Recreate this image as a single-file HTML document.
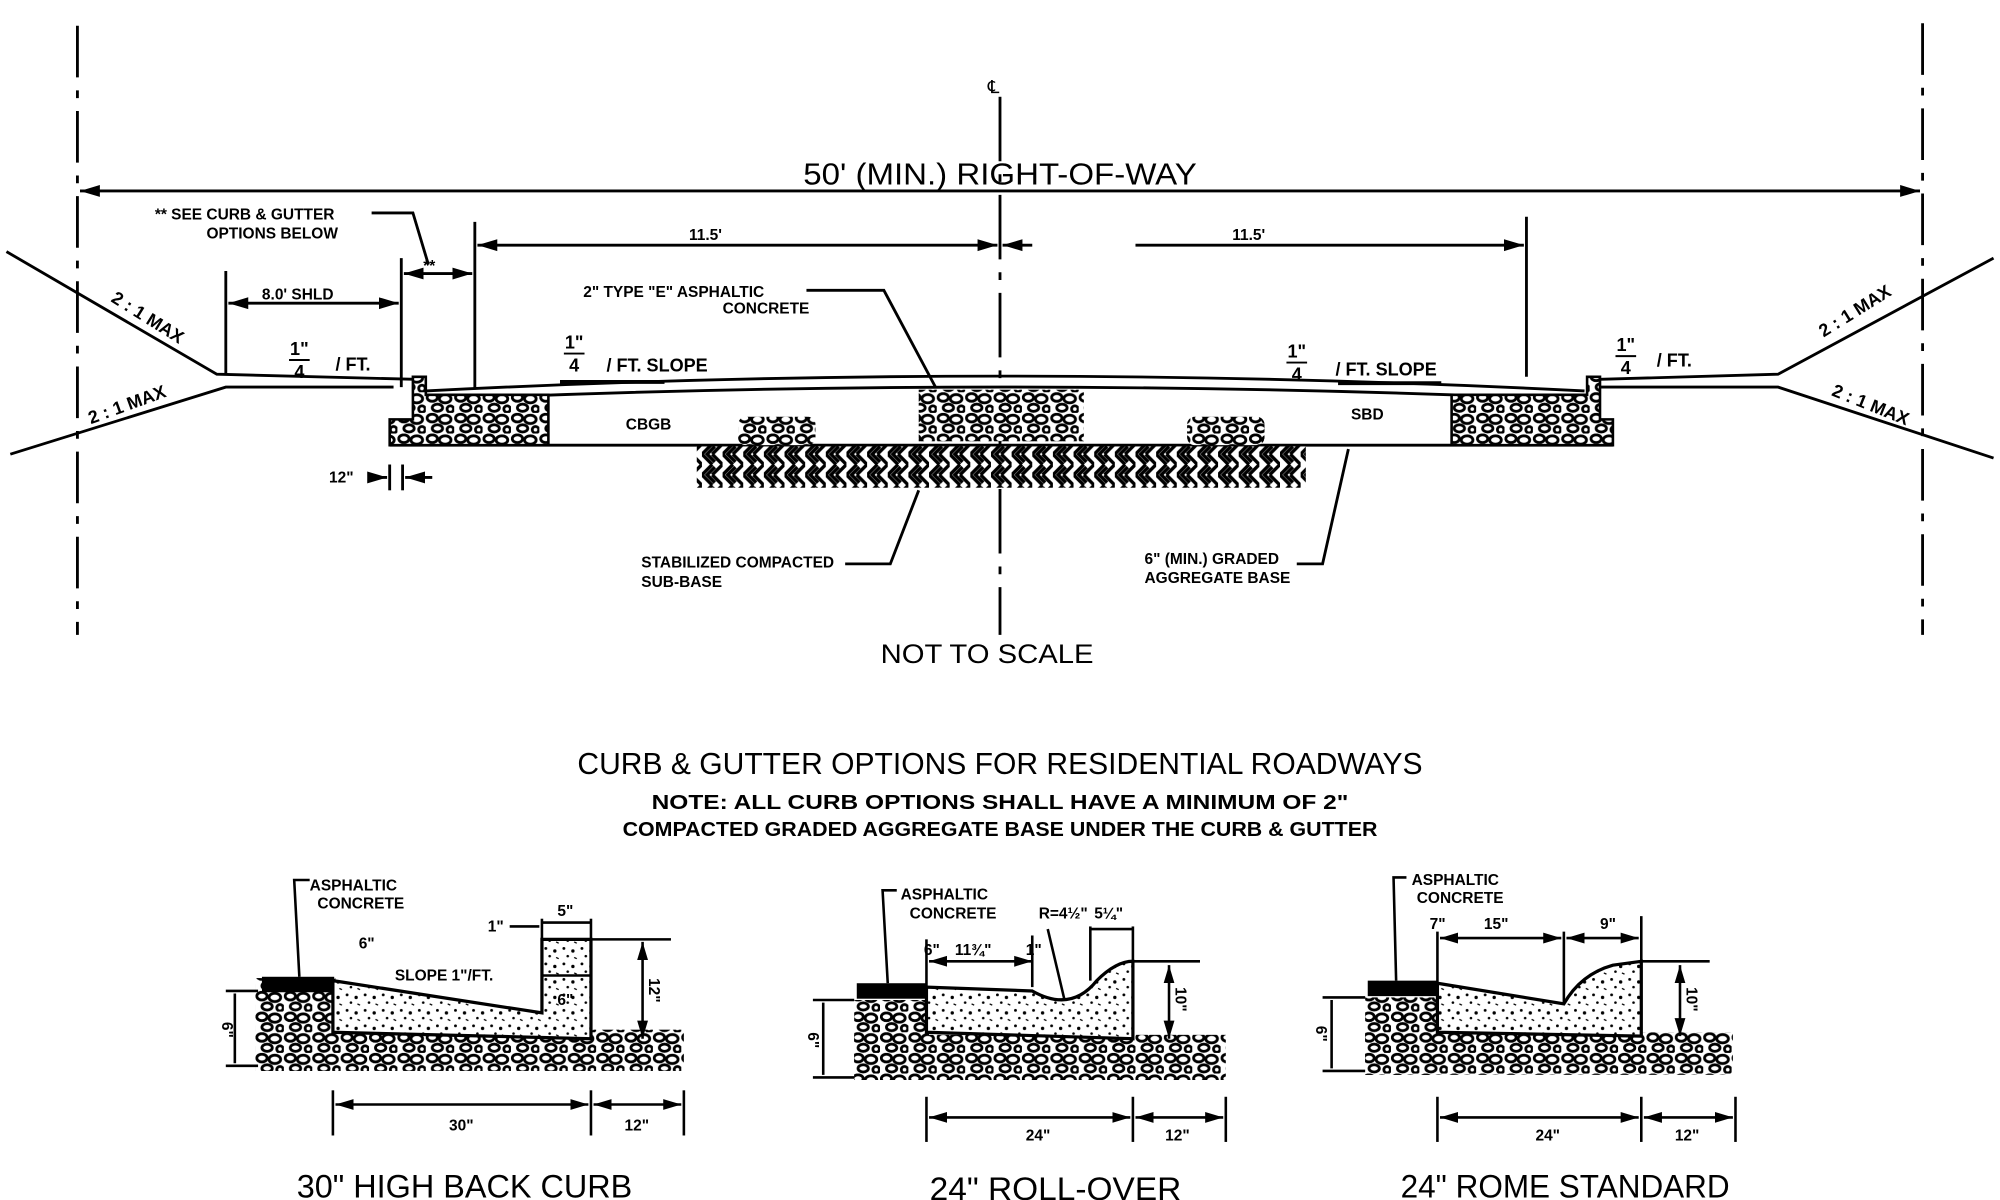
<!DOCTYPE html>
<html><head><meta charset="utf-8"><style>
html,body{margin:0;padding:0;background:#fff;}
svg{display:block;}
text{font-family:"Liberation Sans Narrow","Liberation Sans",sans-serif;fill:#000;}
</style></head><body>
<svg width="2000" height="1200" viewBox="0 0 1550 930" preserveAspectRatio="none" xmlns="http://www.w3.org/2000/svg">
<defs>
<pattern id="grav" width="22" height="16" patternUnits="userSpaceOnUse">
<rect width="22" height="16" fill="#fff"/>
<g fill="#fff" stroke="#000" stroke-width="2.2">
<ellipse cx="5" cy="4" rx="4" ry="3"/>
<ellipse cx="15" cy="5" rx="4.5" ry="3.2"/>
<ellipse cx="9" cy="12" rx="4" ry="2.8"/>
<ellipse cx="19" cy="13" rx="2.5" ry="2.5"/>
</g>
</pattern>
<pattern id="hatch" width="16" height="16" patternUnits="userSpaceOnUse">
<rect width="16" height="16" fill="#fff"/>
<path d="M0 0 L8 8 M2 -2 L10 6 M8 8 L0 16 M10 10 L2 18 M8 0 L16 8 M16 8 L8 16" stroke="#000" stroke-width="2.6"/>
</pattern>
<pattern id="stip" width="14" height="12" patternUnits="userSpaceOnUse">
<rect width="14" height="12" fill="#fff"/>
<circle cx="3" cy="3" r="1.1" fill="#000"/><circle cx="10" cy="5" r="1.3" fill="#000"/>
<circle cx="6" cy="9" r="1" fill="#000"/><path d="M11 10 l2 1" stroke="#000" stroke-width="1"/>
</pattern>
<marker id="ar" viewBox="0 0 10 10" refX="10" refY="5" markerWidth="7" markerHeight="7" orient="auto-start-reverse"><path d="M0 2 L10 5 L0 8z" fill="#000"/></marker>
</defs>
<g stroke="#000" fill="none" stroke-width="2.2">
<line x1="60" y1="20" x2="60" y2="492" stroke-dasharray="40 10 6 10"/>
<line x1="1490" y1="18" x2="1490" y2="492" stroke-dasharray="40 10 6 10"/>
<line x1="775" y1="75" x2="775" y2="492" stroke-dasharray="50 10 6 10"/>
<line x1="62" y1="148" x2="1488" y2="148" marker-start="url(#ar)" marker-end="url(#ar)"/>
<line x1="368" y1="172" x2="368" y2="302"/><line x1="1183" y1="168" x2="1183" y2="292"/>
<line x1="370" y1="190" x2="773" y2="190" marker-start="url(#ar)" marker-end="url(#ar)"/>
<line x1="880" y1="190" x2="1181" y2="190" marker-end="url(#ar)"/>
<line x1="777" y1="190" x2="800" y2="190" marker-start="url(#ar)"/>
<line x1="175" y1="210" x2="175" y2="290"/><line x1="311" y1="200" x2="311" y2="300"/>
<line x1="177" y1="235" x2="309" y2="235" marker-start="url(#ar)" marker-end="url(#ar)"/>
<line x1="313" y1="212" x2="366" y2="212" marker-start="url(#ar)" marker-end="url(#ar)"/>
<polyline points="288,165 320,165 332,205"/>
<polyline points="5,195 168,290 322,294"/>
<polyline points="8,352 175,300 305,300"/>
<polyline points="1545,200 1378,290 1240,294"/>
<polyline points="1545,355 1378,300 1240,300"/>
<path d="M330 303 Q775 280 1228 303"/>
<path d="M330 310 Q775 290 1228 310"/>
<line x1="302" y1="345" x2="1250" y2="345"/>
<line x1="434" y1="296" x2="515" y2="296" stroke-width="3"/>
<line x1="1037" y1="297" x2="1117" y2="297" stroke-width="3"/>
<polyline points="625,225 685,225 725,300"/>
<polyline points="655,437 690,437 712,380"/>
<polyline points="1005,437 1025,437 1045,348"/>
<line x1="302" y1="360" x2="302" y2="380"/><line x1="312" y1="360" x2="312" y2="380"/>
<line x1="285" y1="370" x2="300" y2="370" marker-end="url(#ar)"/><line x1="335" y1="370" x2="314" y2="370" marker-end="url(#ar)"/>
</g>
<path d="M320 292 L330 292 L330 306 L425 306 L425 345 L302 345 L302 325 L320 325Z" fill="url(#grav)" stroke="#000" stroke-width="2"/>
<path d="M1240 292 L1230 292 L1230 306 L1125 306 L1125 345 L1250 345 L1250 325 L1240 325Z" fill="url(#grav)" stroke="#000" stroke-width="2"/>
<rect x="712" y="302" width="128" height="40" fill="url(#grav)"/>
<rect x="572" y="323" width="60" height="22" rx="6" fill="url(#grav)"/>
<rect x="920" y="323" width="60" height="22" rx="6" fill="url(#grav)"/>
<rect x="540" y="346" width="472" height="32" fill="url(#hatch)"/>
<g font-size="24" text-anchor="middle">
<text x="775" y="143" textLength="305" lengthAdjust="spacingAndGlyphs">50' (MIN.) RIGHT-OF-WAY</text>
<text x="770" y="72" font-size="14">℄</text>
<text x="765" y="514" font-size="21" textLength="165" lengthAdjust="spacingAndGlyphs">NOT TO SCALE</text>
<text x="775" y="600" textLength="655" lengthAdjust="spacingAndGlyphs">CURB &amp; GUTTER OPTIONS FOR RESIDENTIAL ROADWAYS</text>
<text x="775" y="627" font-size="16" font-weight="bold" textLength="540" lengthAdjust="spacingAndGlyphs">NOTE:  ALL CURB OPTIONS SHALL HAVE A MINIMUM OF 2"</text>
<text x="775" y="648" font-size="16" font-weight="bold" textLength="585" lengthAdjust="spacingAndGlyphs">COMPACTED GRADED AGGREGATE BASE UNDER THE CURB &amp; GUTTER</text>
<text x="360" y="928" font-size="25" textLength="260" lengthAdjust="spacingAndGlyphs">30" HIGH BACK CURB</text>
<text x="818" y="930" font-size="25" textLength="195" lengthAdjust="spacingAndGlyphs">24" ROLL-OVER</text>
<text x="1213" y="928" font-size="25" textLength="255" lengthAdjust="spacingAndGlyphs">24" ROME STANDARD</text>
</g>
<g font-size="12" font-weight="bold">
<text x="120" y="170">** SEE CURB &amp; GUTTER</text><text x="160" y="185">OPTIONS BELOW</text>
<text x="203" y="232">8.0' SHLD</text>
<text x="328" y="210">**</text>
<text x="534" y="186">11.5'</text><text x="955" y="186">11.5'</text>
<text x="452" y="230">2" TYPE "E" ASPHALTIC</text><text x="560" y="243">CONCRETE</text>
<text x="470" y="288" font-size="14">/ FT. SLOPE</text>
<text x="1035" y="291" font-size="14">/ FT. SLOPE</text>
<text x="260" y="287" font-size="14">/ FT.</text>
<text x="1284" y="284" font-size="14">/ FT.</text>
<text x="485" y="333">CBGB</text><text x="1047" y="325">SBD</text>
<text x="255" y="374">12"</text>
<text x="497" y="440">STABILIZED COMPACTED</text><text x="497" y="455">SUB-BASE</text>
<text x="887" y="437">6" (MIN.) GRADED</text><text x="887" y="452">AGGREGATE BASE</text>
</g>
<g font-size="14" font-weight="bold" text-anchor="middle">
<text x="232" y="275">1"</text><line x1="224" y1="279" x2="240" y2="279" stroke="#000" stroke-width="1.5"/><text x="232" y="293">4</text>
<text x="445" y="270">1"</text><line x1="437" y1="274" x2="453" y2="274" stroke="#000" stroke-width="1.5"/><text x="445" y="288">4</text>
<text x="1005" y="277">1"</text><line x1="997" y1="281" x2="1013" y2="281" stroke="#000" stroke-width="1.5"/><text x="1005" y="295">4</text>
<text x="1260" y="272">1"</text><line x1="1252" y1="276" x2="1268" y2="276" stroke="#000" stroke-width="1.5"/><text x="1260" y="290">4</text>
<text x="112" y="250" transform="rotate(32 112 250)">2 : 1 MAX</text>
<text x="100" y="318" transform="rotate(-20 100 318)">2 : 1 MAX</text>
<text x="1440" y="245" transform="rotate(-32 1440 245)">2 : 1 MAX</text>
<text x="1448" y="318" transform="rotate(22 1448 318)">2 : 1 MAX</text>
</g>

<!-- Detail 1 -->
<rect x="198" y="798" width="332" height="32" fill="url(#grav)"/>
<rect x="198" y="758" width="62" height="72" fill="url(#grav)"/>
<path d="M258 760 L420 785 L420 728 L458 728 L458 805 L258 800Z" fill="url(#stip)" stroke="#000" stroke-width="2.5"/>
<rect x="203" y="757" width="56" height="12" fill="#000"/>
<g stroke="#000" fill="none" stroke-width="2">
<polyline points="240,682 228,682 232,757"/>
<line x1="175" y1="768" x2="200" y2="768"/><line x1="175" y1="826" x2="200" y2="826"/><line x1="182" y1="770" x2="182" y2="824"/>
<line x1="458" y1="728" x2="520" y2="728"/><line x1="498" y1="730" x2="498" y2="805" marker-start="url(#ar)" marker-end="url(#ar)"/>
<line x1="420" y1="715" x2="458" y2="715"/><line x1="420" y1="712" x2="420" y2="728"/><line x1="458" y1="712" x2="458" y2="728"/>
<line x1="395" y1="718" x2="418" y2="718"/><line x1="420" y1="756" x2="458" y2="756"/>
<line x1="258" y1="845" x2="258" y2="880"/><line x1="458" y1="845" x2="458" y2="880"/><line x1="530" y1="845" x2="530" y2="880"/>
<line x1="260" y1="856" x2="456" y2="856" marker-start="url(#ar)" marker-end="url(#ar)"/><line x1="460" y1="856" x2="528" y2="856" marker-start="url(#ar)" marker-end="url(#ar)"/>
</g>
<g font-size="12" font-weight="bold">
<text x="240" y="690">ASPHALTIC</text><text x="246" y="704">CONCRETE</text>
<text x="278" y="735">6"</text><text x="306" y="760">SLOPE 1"/FT.</text>
<text x="378" y="722">1"</text><text x="432" y="710">5"</text><text x="432" y="779">6"</text>
<text x="503" y="758" transform="rotate(90 503 758)">12"</text>
<text x="172" y="792" transform="rotate(90 172 792)">6"</text>
<text x="348" y="876">30"</text><text x="484" y="876">12"</text>
</g>

<!-- Detail 2 -->
<rect x="662" y="802" width="288" height="35" fill="url(#grav)"/>
<rect x="662" y="775" width="58" height="62" fill="url(#grav)"/>
<path d="M718 765 L800 768 Q830 785 850 760 Q865 745 878 745 L878 805 L718 800Z" fill="url(#stip)" stroke="#000" stroke-width="2.5"/>
<rect x="664" y="762" width="54" height="12" fill="#000"/>
<g stroke="#000" fill="none" stroke-width="2">
<polyline points="695,690 684,690 688,762"/>
<line x1="878" y1="745" x2="930" y2="745"/><line x1="906" y1="748" x2="906" y2="805" marker-start="url(#ar)" marker-end="url(#ar)"/>
<line x1="720" y1="745" x2="800" y2="745" marker-start="url(#ar)" marker-end="url(#ar)"/>
<line x1="718" y1="728" x2="718" y2="765"/><line x1="800" y1="725" x2="800" y2="765"/>
<line x1="845" y1="720" x2="878" y2="720"/><line x1="845" y1="718" x2="845" y2="760"/><line x1="878" y1="718" x2="878" y2="745"/>
<line x1="812" y1="720" x2="825" y2="775"/>
<line x1="630" y1="775" x2="662" y2="775"/><line x1="630" y1="835" x2="662" y2="835"/><line x1="638" y1="777" x2="638" y2="833"/>
<line x1="718" y1="850" x2="718" y2="885"/><line x1="878" y1="850" x2="878" y2="885"/><line x1="950" y1="850" x2="950" y2="885"/>
<line x1="720" y1="866" x2="876" y2="866" marker-start="url(#ar)" marker-end="url(#ar)"/><line x1="880" y1="866" x2="948" y2="866" marker-start="url(#ar)" marker-end="url(#ar)"/>
</g>
<g font-size="12" font-weight="bold">
<text x="698" y="697">ASPHALTIC</text><text x="705" y="712">CONCRETE</text>
<text x="716" y="740">6"</text><text x="740" y="740">11¾"</text><text x="795" y="740">1"</text>
<text x="805" y="712">R=4½"</text><text x="848" y="712">5¼"</text>
<text x="911" y="765" transform="rotate(90 911 765)">10"</text>
<text x="626" y="800" transform="rotate(90 626 800)">6"</text>
<text x="795" y="884">24"</text><text x="903" y="884">12"</text>
</g>

<!-- Detail 3 -->
<rect x="1058" y="800" width="285" height="33" fill="url(#grav)"/>
<rect x="1058" y="773" width="58" height="60" fill="url(#grav)"/>
<path d="M1114 762 L1212 778 Q1225 755 1250 748 L1272 745 L1272 803 L1114 800Z" fill="url(#stip)" stroke="#000" stroke-width="2.5"/>
<rect x="1060" y="760" width="54" height="12" fill="#000"/>
<g stroke="#000" fill="none" stroke-width="2">
<polyline points="1090,680 1080,680 1082,760"/>
<line x1="1272" y1="745" x2="1325" y2="745"/><line x1="1302" y1="748" x2="1302" y2="803" marker-start="url(#ar)" marker-end="url(#ar)"/>
<line x1="1116" y1="727" x2="1210" y2="727" marker-start="url(#ar)" marker-end="url(#ar)"/><line x1="1214" y1="727" x2="1270" y2="727" marker-start="url(#ar)" marker-end="url(#ar)"/>
<line x1="1114" y1="722" x2="1114" y2="762"/><line x1="1212" y1="722" x2="1212" y2="778"/><line x1="1272" y1="710" x2="1272" y2="745"/>
<line x1="1025" y1="773" x2="1058" y2="773"/><line x1="1025" y1="830" x2="1058" y2="830"/><line x1="1032" y1="775" x2="1032" y2="828"/>
<line x1="1114" y1="850" x2="1114" y2="885"/><line x1="1272" y1="850" x2="1272" y2="885"/><line x1="1345" y1="850" x2="1345" y2="885"/>
<line x1="1116" y1="866" x2="1270" y2="866" marker-start="url(#ar)" marker-end="url(#ar)"/><line x1="1274" y1="866" x2="1343" y2="866" marker-start="url(#ar)" marker-end="url(#ar)"/>
</g>
<g font-size="12" font-weight="bold">
<text x="1094" y="686">ASPHALTIC</text><text x="1098" y="700">CONCRETE</text>
<text x="1108" y="720">7"</text><text x="1150" y="720">15"</text><text x="1240" y="720">9"</text>
<text x="1307" y="765" transform="rotate(90 1307 765)">10"</text>
<text x="1020" y="795" transform="rotate(90 1020 795)">6"</text>
<text x="1190" y="884">24"</text><text x="1298" y="884">12"</text>
</g>
</svg>
</body></html>
